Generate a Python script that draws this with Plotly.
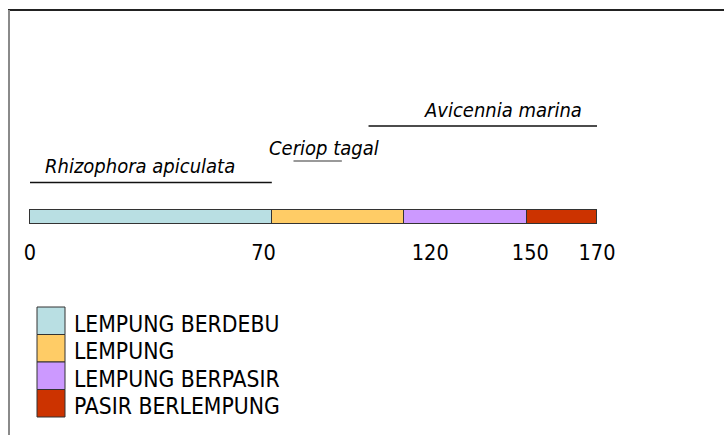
import plotly.graph_objects as go

# ---- data ----
soil_types = ["LEMPUNG BERDEBU", "LEMPUNG", "LEMPUNG BERPASIR", "PASIR BERLEMPUNG"]
soil_widths = [72.5, 39.5, 37.0, 21.0]          # segment lengths along the transect
soil_colors = ["#B9DFE3", "#FFCC66", "#CC99FF", "#CC3300"]
tick_values = [0, 70, 120, 150, 170]
tick_labels = ["0", "70", "120", "150", "170"]
species = ["Rhizophora apiculata", "Ceriop tagal", "Avicennia marina"]
species_start = [0.0, 79.0, 101.5]
species_end = [72.5, 93.5, 170.0]

W, H = 724, 435
FONT = "DejaVu Sans Condensed, DejaVu Sans, sans-serif"

fig = go.Figure()
for name, w, c in zip(soil_types, soil_widths, soil_colors):
    fig.add_trace(go.Bar(
        x=[w], y=[217], orientation="h", width=14, name=name,
        marker=dict(color=c, line=dict(color="#333333", width=1)),
        showlegend=False, hoverinfo="skip",
    ))

shapes = []
annotations = []

# frame
shapes.append(dict(type="line", xref="paper", yref="y", x0=8 / W, x1=1, y0=10, y1=10,
                   line=dict(color="#222222", width=2)))
shapes.append(dict(type="line", xref="paper", yref="y", x0=9 / W, x1=9 / W, y0=10, y1=H,
                   line=dict(color="#8a8a8a", width=2)))

# species zones
sp_line_y = [182.5, 161, 126]
sp_text_y = [166, 147.5, 110]
sp_text_x = [140, 323.5, 502.5]
sp_line_col = ["#111111", "#777777", "#111111"]
for s, x0, x1, ly, ty, tx, lc in zip(species, species_start, species_end, sp_line_y, sp_text_y, sp_text_x, sp_line_col):
    shapes.append(dict(type="line", xref="x", yref="y", x0=x0, x1=x1, y0=ly, y1=ly,
                       line=dict(color=lc, width=1.5)))
    annotations.append(dict(text=s, xref="paper", yref="y", x=tx / W, y=ty,
                            xanchor="center", yanchor="middle", showarrow=False,
                            font=dict(family=FONT, size=20, color="#000000", style="italic")))

# legend
leg_top = [307, 334.5, 362, 389.5]
for name, c, t in zip(soil_types, soil_colors, leg_top):
    shapes.append(dict(type="rect", xref="paper", yref="y", x0=37 / W, x1=65 / W, y0=t, y1=t + 27.5,
                       fillcolor=c, line=dict(color="#333333", width=1)))
    annotations.append(dict(text=name, xref="paper", yref="y", x=72 / W, y=t + 16.5,
                            xanchor="left", yanchor="middle", showarrow=False,
                            font=dict(family=FONT, size=22.7, color="#000000")))

px_per_unit = 567 / 170
x0v = -30 / px_per_unit
x1v = (W - 30) / px_per_unit

fig.update_layout(
    width=W, height=H, margin=dict(l=0, r=0, t=0, b=0),
    paper_bgcolor="white", plot_bgcolor="white",
    barmode="stack", bargap=0,
    shapes=shapes, annotations=annotations,
    xaxis=dict(range=[x0v, x1v], tickvals=tick_values, ticktext=tick_labels,
               showgrid=False, zeroline=False, showline=False, ticks="",
               anchor="free", position=1 - 237 / H,
               tickfont=dict(family=FONT, size=21.5, color="#000000")),
    yaxis=dict(range=[H, 0], showgrid=False, zeroline=False, showticklabels=False,
               showline=False, ticks=""),
)

fig.write_html("out.html", config={"displayModeBar": False},
               post_script="document.body.style.margin='0';")
